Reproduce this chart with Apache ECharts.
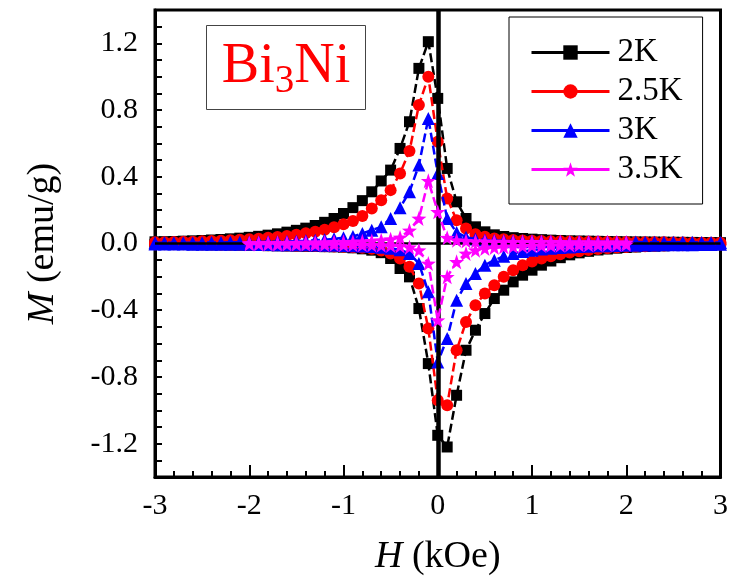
<!DOCTYPE html>
<html>
<head>
<meta charset="utf-8">
<script src="https://cdn.jsdelivr.net/npm/echarts@6/dist/echarts.min.js"></script>
<style>html,body{margin:0;padding:0;background:#fff;}#chart{width:731px;height:586px;}</style>
</head>
<body>
<div id="chart"></div>
<script>
// Field grid (kOe)
const H = [-3.0,-2.9,-2.8,-2.7,-2.6,-2.5,-2.4,-2.3,-2.2,-2.1,-2.0,-1.9,-1.8,-1.7,-1.6,-1.5,-1.4,-1.3,-1.2,-1.1,
  -1.0,-0.9,-0.8,-0.7,-0.6,-0.5,-0.4,-0.3,-0.2,-0.1,0.0,0.1,0.2,0.3,0.4,0.5,0.6,0.7,0.8,0.9,1.0,
  1.1,1.2,1.3,1.4,1.5,1.6,1.7,1.8,1.9,2.0,2.1,2.2,2.3,2.4,2.5,2.6,2.7,2.8,2.9,3.0];

// 2K
const M2K_dec = [0.010,0.011,0.012,0.014,0.016,0.018,0.021,0.024,0.028,0.032,0.037,0.043,0.050,0.058,0.068,0.079,0.092,0.108,0.127,0.150,
  0.180,0.215,0.257,0.310,0.375,0.440,0.570,0.730,1.050,1.210,
  0.870,
  0.450,0.250,0.150,0.100,0.070,0.052,0.042,0.035,0.030,0.026,0.023,0.020,0.018,0.016,0.015,0.014,0.013,0.012,0.011,0.010,0.0095,0.009,0.0085,0.008,0.0075,0.007,0.0065,0.006,0.0055,0.005];
const M2K_inc = [-0.005,-0.005,-0.006,-0.006,-0.007,-0.007,-0.008,-0.008,-0.009,-0.010,-0.011,-0.012,-0.013,-0.014,-0.015,-0.016,-0.017,-0.018,-0.019,-0.020,
  -0.022,-0.026,-0.032,-0.040,-0.055,-0.090,-0.150,-0.200,-0.390,-0.720,
  -1.150,
  -1.220,-0.910,-0.640,-0.520,-0.420,-0.330,-0.280,-0.230,-0.190,-0.160,-0.130,-0.105,-0.085,-0.068,-0.056,-0.047,-0.039,-0.033,-0.028,-0.024,-0.021,-0.018,-0.016,-0.014,-0.012,-0.011,-0.010,-0.009,-0.008,-0.007];
// 2.5K
const M25K_dec = [0.007,0.008,0.009,0.010,0.011,0.013,0.015,0.017,0.019,0.022,0.025,0.029,0.034,0.039,0.045,0.052,0.061,0.071,0.083,0.097,
  0.115,0.135,0.165,0.210,0.260,0.320,0.420,0.555,0.830,1.000,
  0.610,
  0.270,0.140,0.090,0.055,0.040,0.030,0.025,0.021,0.018,0.016,0.015,0.014,0.013,0.012,0.011,0.011,0.010,0.010,0.009,0.009,0.008,0.008,0.007,0.007,0.006,0.006,0.005,0.005,0.005,0.004];
const M25K_inc = [-0.004,-0.004,-0.005,-0.005,-0.005,-0.006,-0.006,-0.007,-0.007,-0.008,-0.008,-0.009,-0.010,-0.011,-0.012,-0.013,-0.014,-0.015,-0.016,-0.018,
  -0.020,-0.022,-0.026,-0.032,-0.042,-0.060,-0.090,-0.140,-0.240,-0.510,
  -0.940,
  -0.970,-0.640,-0.470,-0.370,-0.300,-0.250,-0.200,-0.160,-0.130,-0.108,-0.090,-0.076,-0.064,-0.054,-0.046,-0.039,-0.033,-0.028,-0.024,-0.021,-0.018,-0.016,-0.014,-0.012,-0.011,-0.010,-0.009,-0.008,-0.007,-0.006];
// 3K
const M3K_dec = [0.004,0.004,0.004,0.005,0.005,0.005,0.006,0.006,0.007,0.007,0.008,0.009,0.010,0.011,0.012,0.014,0.016,0.019,0.023,0.028,
  0.034,0.042,0.060,0.080,0.100,0.150,0.215,0.310,0.470,0.750,
  0.420,
  0.150,0.066,0.038,0.027,0.021,0.018,0.016,0.015,0.014,0.013,0.013,0.012,0.012,0.011,0.011,0.010,0.010,0.010,0.009,0.009,0.009,0.008,0.008,0.008,0.007,0.007,0.007,0.006,0.006,0.006];
const M3K_inc = [-0.003,-0.003,-0.003,-0.003,-0.004,-0.004,-0.004,-0.004,-0.005,-0.005,-0.005,-0.006,-0.006,-0.007,-0.007,-0.008,-0.008,-0.009,-0.010,-0.011,
  -0.012,-0.013,-0.015,-0.018,-0.022,-0.028,-0.038,-0.060,-0.120,-0.290,
  -0.710,
  -0.570,-0.340,-0.240,-0.180,-0.130,-0.100,-0.077,-0.060,-0.048,-0.040,-0.033,-0.028,-0.024,-0.021,-0.018,-0.016,-0.014,-0.013,-0.012,-0.011,-0.010,-0.009,-0.009,-0.008,-0.008,-0.007,-0.007,-0.006,-0.006,-0.005];
// 3.5K (measured only from -2 to 2 kOe)
const M35K_dec = [null,null,null,null,null,null,null,null,null,null,
  0.003,0.003,0.004,0.004,0.005,0.005,0.006,0.007,0.008,0.009,
  0.010,0.011,0.013,0.016,0.020,0.026,0.036,0.078,0.150,0.376,
  0.190,
  0.035,0.020,0.015,0.013,0.012,0.011,0.011,0.010,0.010,0.010,0.009,0.009,0.009,0.008,0.008,0.008,0.007,0.007,0.007,0.006,
  null,null,null,null,null,null,null,null,null,null];
const M35K_inc = [null,null,null,null,null,null,null,null,null,null,
  -0.003,-0.003,-0.003,-0.004,-0.004,-0.004,-0.005,-0.005,-0.006,-0.006,
  -0.007,-0.007,-0.008,-0.009,-0.010,-0.012,-0.015,-0.022,-0.040,-0.120,
  -0.460,
  -0.200,-0.110,-0.060,-0.040,-0.030,-0.024,-0.020,-0.017,-0.015,-0.013,-0.012,-0.011,-0.010,-0.009,-0.008,-0.008,-0.007,-0.006,-0.006,-0.005,
  null,null,null,null,null,null,null,null,null,null];

const SERIES_NAMES = ['2K', '2.5K', '3K', '3.5K'];
const X_TICKS = [-3, -2, -1, 0, 1, 2, 3];
const Y_TICKS = [-1.2, -0.8, -0.4, 0.0, 0.4, 0.8, 1.2];

const FONT = "'Liberation Serif', 'Times New Roman', serif";
const STAR = 'path://M0,-10 L2.35,-3.24 L9.51,-3.09 L3.8,1.24 L5.88,8.09 L0,4 L-5.88,8.09 L-3.8,1.24 L-9.51,-3.09 L-2.35,-3.24 Z';

const styles = [
  {color: '#000000', symbol: 'rect', size: 11},
  {color: '#ff0000', symbol: 'circle', size: 12},
  {color: '#0000ff', symbol: 'triangle', size: 13},
  {color: '#ff00ff', symbol: STAR, size: 15}
];
const branches = [[M2K_dec, M2K_inc], [M25K_dec, M25K_inc], [M3K_dec, M3K_inc], [M35K_dec, M35K_inc]];

function toData(arr) { return H.map((h, i) => [h, arr[i] === null ? '-' : arr[i]]); }

const series = [{
  name: 'zero', type: 'line', data: [], z: 1, silent: true,
  markLine: {
    silent: true, symbol: 'none', animation: false,
    label: {show: false},
    lineStyle: {color: '#000', type: 'solid', width: 3},
    data: [{xAxis: 0, lineStyle: {width: 4.5}}, {yAxis: 0, lineStyle: {width: 2.5}}]
  }
}];
branches.forEach((pair, k) => {
  pair.forEach(arr => {
    series.push({
      name: SERIES_NAMES[k], type: 'line', z: 2 + k,
      data: toData(arr),
      symbol: styles[k].symbol, symbolSize: styles[k].size,
      showAllSymbol: true, connectNulls: false,
      lineStyle: {color: styles[k].color, width: 2.5, type: [9, 4]},
      itemStyle: {color: styles[k].color},
      animation: false
    });
  });
});

const chart = echarts.init(document.getElementById('chart'), null, {renderer: 'canvas'});
chart.setOption({
  backgroundColor: '#fff',
  animation: false,
  textStyle: {fontFamily: FONT},
  grid: {left: 155, right: 10, top: 10, bottom: 109, show: true, borderColor: '#000', borderWidth: 3, backgroundColor: 'transparent'},
  xAxis: {
    type: 'value', min: X_TICKS[0], max: X_TICKS[X_TICKS.length - 1], interval: 1,
    axisLine: {onZero: false, lineStyle: {color: '#000', width: 3}},
    axisTick: {inside: true, length: 12, lineStyle: {width: 2, color: '#000'}},
    minorTick: {show: true, splitNumber: 5, length: 6, lineStyle: {width: 2, color: '#000'}},
    splitLine: {show: false},
    axisLabel: {fontFamily: FONT, fontSize: 30, color: '#000', margin: 14,
      formatter: v => X_TICKS.indexOf(v) >= 0 ? String(v) : ''},
    name: '{i|H} (kOe)', nameLocation: 'middle', nameGap: 61,
    nameTextStyle: {fontFamily: FONT, fontSize: 38, color: '#000',
      rich: {i: {fontFamily: FONT, fontSize: 38, fontStyle: 'italic', color: '#000'}}}
  },
  yAxis: {
    type: 'value', min: -1.4, max: 1.4, interval: 0.2,
    axisLine: {onZero: false, lineStyle: {color: '#000', width: 3}},
    axisTick: {inside: true, length: 7, lineStyle: {width: 2, color: '#000'}},
    minorTick: {show: true, splitNumber: 2, length: 7, lineStyle: {width: 2, color: '#000'}},
    splitLine: {show: false},
    axisLabel: {fontFamily: FONT, fontSize: 30, color: '#000', margin: 17,
      formatter: v => {
        const hit = Y_TICKS.find(t => Math.abs(t - v) < 1e-6);
        return hit === undefined ? '' : hit.toFixed(1);
      }},
    name: '{i|M} (emu/g)', nameLocation: 'middle', nameGap: 93, nameRotate: 90,
    nameTextStyle: {fontFamily: FONT, fontSize: 38, color: '#000',
      rich: {i: {fontFamily: FONT, fontSize: 38, fontStyle: 'italic', color: '#000'}}}
  },
  legend: {
    data: SERIES_NAMES, orient: 'vertical', left: 509, top: 17,
    padding: [19, 20, 18, 21], itemGap: 6, itemWidth: 78, itemHeight: 18,
    borderColor: '#000', borderWidth: 1, backgroundColor: '#fff',
    textStyle: {fontFamily: FONT, fontSize: 33, color: '#000', padding: [0, 0, 0, 3]},
    lineStyle: {type: 'solid', width: 3},
    selectedMode: false
  },
  graphic: [
    {type: 'rect', left: 206, top: 25, z: 10,
      shape: {width: 159, height: 84}, style: {fill: '#fff', stroke: '#444', lineWidth: 1}},
    {type: 'text', x: 286, y: 67, z: 11,
      style: {text: '{a|Bi}{s|3}{a|Ni}', align: 'center', verticalAlign: 'middle',
        rich: {
          a: {fontFamily: FONT, fontSize: 56, lineHeight: 56, fill: '#ff0000', verticalAlign: 'middle'},
          s: {fontFamily: FONT, fontSize: 39, lineHeight: 39, padding: [30, 0, 0, 0], fill: '#ff0000', verticalAlign: 'middle'}
        }}}
  ],
  series: series
});
</script>
</body>
</html>
